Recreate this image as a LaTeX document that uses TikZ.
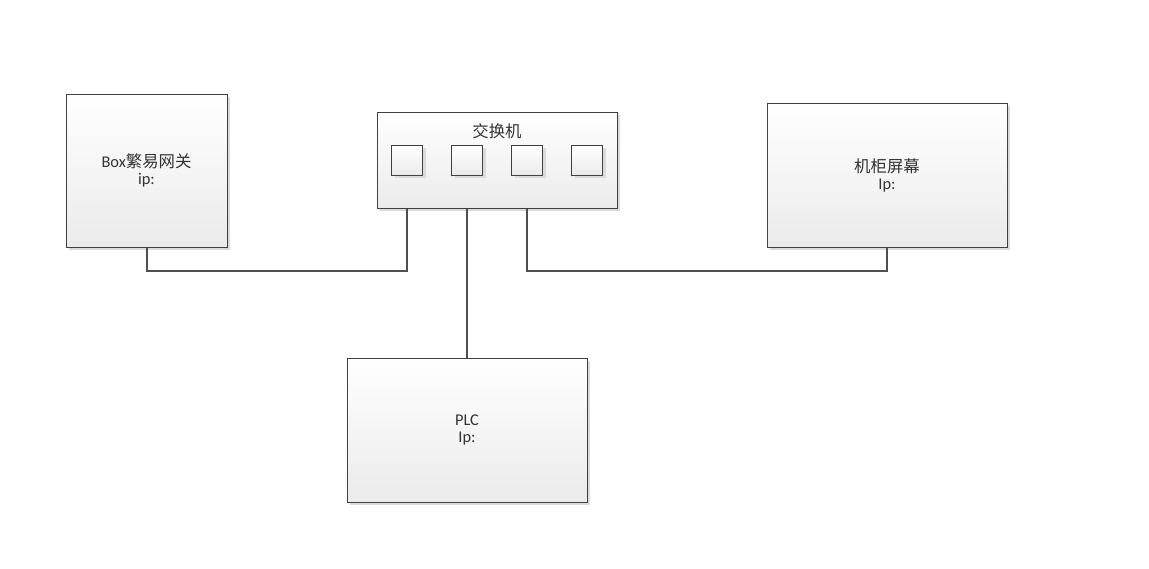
\documentclass[tikz,border=0pt]{standalone}
\usepackage{fontspec}
\setmainfont{Carlito}
\newfontfamily\cjk{Noto Sans CJK SC}
\usetikzlibrary{shadows}
\definecolor{edgegray}{HTML}{404040}
\definecolor{linkgray}{HTML}{505050}
\definecolor{textgray}{HTML}{333333}

\begin{document}
\begin{tikzpicture}[x=0.75pt,y=-0.75pt,
		box/.style={draw=edgegray, line width=0.75pt, top color=white, bottom color=black!8,
			drop shadow={shadow xshift=2.25pt, shadow yshift=-2.25pt, fill=black!14, opacity=1},
			align=center, inner sep=0pt, text=textgray, font=\fontsize{12.3}{12.75}\selectfont},
		port/.style={box, minimum width=31*0.75pt, minimum height=30*0.75pt},
		link/.style={draw=linkgray, line width=1.5pt}
		]
		\useasboundingbox (0,0) rectangle (1149,568);
		% devices
		\node[box, minimum width=161*0.75pt, minimum height=153*0.75pt] (gw) at (146.5,170.5) {Box{\cjk 繁易网关}\\ip:};
		\node[box, minimum width=240*0.75pt, minimum height=96*0.75pt] (sw) at (497,160) {};
		\node[text=textgray, font=\cjk\fontsize{12.3}{12.75}\selectfont] (swname) at (497,131) {交换机};
		\node[box, minimum width=240*0.75pt, minimum height=144*0.75pt] (scr) at (887,175) {{\cjk 机柜屏幕}\\Ip:};
		\node[box, minimum width=240*0.75pt, minimum height=144*0.75pt] (plc) at (467,430) {PLC\\Ip:};
		% switch ports
		\foreach \i/\x in {1/407,2/467,3/527,4/587}
			\node[port] (p\i) at (\x,160) {};
		% cables
		\draw[link] (gw.south) -- ++(0,23) -| (p1 |- sw.south);
		\draw[link] (plc.north) -- (p2 |- sw.south);
		\draw[link] (scr.south) -- ++(0,23) -| (p3 |- sw.south);
\end{tikzpicture}
\end{document}
